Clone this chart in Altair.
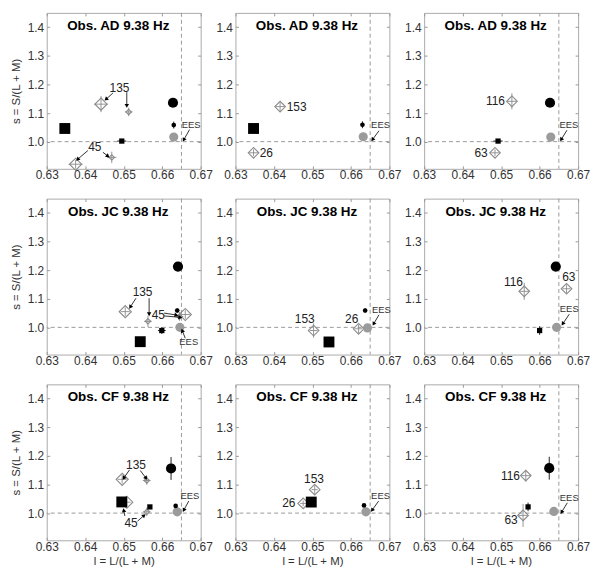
import math
import altair as alt
import pandas as pd

FONT = "Liberation Sans"
OBSERVERS = ["AD", "JC", "CF"]
FREQ = "9.38 Hz"
X_DOMAIN = [0.63, 0.67]
Y_DOMAIN = [0.905, 1.45]
X_TICKS = [0.63, 0.64, 0.65, 0.66, 0.67]
Y_TICKS = [1.0, 1.1, 1.2, 1.3, 1.4]
EES_X = 0.665
EES_Y = 1.0
W, H = 155, 157

# large black squares
bsq_panel = [0, 1, 3, 4, 6, 7]
bsq_x = [0.6347, 0.6347, 0.6543, 0.6543, 0.6495, 0.6497]
bsq_y = [1.046, 1.046, 0.950, 0.949, 1.039, 1.0386]

# small black squares (with error bars)
ssq_panel = [0, 2, 3, 5, 6, 8]
ssq_x = [0.6495, 0.6492, 0.6599, 0.6600, 0.6568, 0.6570]
ssq_y = [1.002, 1.002, 0.989, 0.989, 1.0216, 1.0217]
ssq_ex = [0.0012, 0.0012, 0.0010, 0.0005, 0.0, 0.0]
ssq_ey = [0.0, 0.0, 0.012, 0.015, 0.0, 0.015]

# large black circles
bci_panel = [0, 2, 3, 5, 6, 8]
bci_x = [0.6628, 0.6627, 0.6641, 0.6642, 0.6623, 0.6625]
bci_y = [1.136, 1.136, 1.2126, 1.2126, 1.156, 1.157]
bci_ey = [0.0, 0.0, 0.0, 0.0, 0.04, 0.04]

# small black circles
sci_panel = [0, 1, 3, 4, 6, 7]
sci_x = [0.6630, 0.6630, 0.6639, 0.6637, 0.6635, 0.6634]
sci_y = [1.058, 1.059, 1.059, 1.059, 1.025, 1.027]
sci_ey = [0.012, 0.012, 0.008, 0.008, 0.005, 0.005]

# grey circles
gci_panel = [0, 1, 2, 3, 4, 5, 6, 7, 8]
gci_x = [0.6630, 0.6632, 0.6629, 0.6646, 0.6643, 0.6644, 0.6639, 0.6639, 0.6637]
gci_y = [1.016, 1.017, 1.016, 1.000, 0.998, 1.000, 1.0045, 1.0045, 1.006]

# open diamonds with cross-hair error bars
dia_panel = [0, 0, 0, 0, 1, 1, 2, 2, 3, 3, 3, 3, 4, 4, 5, 5, 6, 6, 6, 6, 7, 7, 8, 8]
dia_x = [0.6441, 0.6513, 0.6375, 0.6469, 0.6416, 0.6347, 0.6528, 0.6484,
         0.6504, 0.6563, 0.6645, 0.6660, 0.6503, 0.6620, 0.6560, 0.6670,
         0.6508, 0.6496, 0.6560, 0.6560, 0.6506, 0.6476, 0.6564, 0.6557]
dia_y = [1.131, 1.104, 0.921, 0.945, 1.1225, 0.961, 1.141, 0.961,
         1.055, 1.021, 1.038, 1.045, 0.989, 0.995, 1.126, 1.135,
         1.038, 1.118, 1.114, 1.0045, 1.082, 1.034, 1.131, 0.992]
dia_cls = ["L", "S", "L", "S", "M", "M", "M", "M",
           "L", "S", "S", "L", "M", "M", "M", "M",
           "L", "L", "S", "S", "M", "M", "M", "M"]
dia_ex = [0.0018, 0.0010, 0.0018, 0.0012, 0.0012, 0.0012, 0.0012, 0.0012,
          0.0012, 0.0010, 0.0010, 0.0012, 0.0010, 0.0010, 0.0012, 0.0010,
          0.0010, 0.0012, 0.0010, 0.0010, 0.0008, 0.0008, 0.0012, 0.0012]
dia_ey = [0.028, 0.015, 0.015, 0.020, 0.015, 0.012, 0.028, 0.012,
          0.015, 0.020, 0.015, 0.015, 0.025, 0.015, 0.030, 0.015,
          0.015, 0.015, 0.015, 0.015, 0.015, 0.010, 0.020, 0.040]
DIA_SIZE = {"L": 150, "M": 115, "S": 30}

# number labels
lab_panel = [0, 0, 1, 1, 2, 2, 3, 3, 4, 4, 5, 5, 6, 6, 7, 7, 8, 8]
lab_text = ["135", "45", "153", "26", "116", "63", "135", "45", "153", "26",
            "116", "63", "135", "45", "153", "26", "116", "63"]
lab_x = [0.6489, 0.6425, 0.6433, 0.6363, 0.6510, 0.6465, 0.6549, 0.6590, 0.6480, 0.6602,
         0.6532, 0.6676, 0.6532, 0.6519, 0.6504, 0.6456, 0.6549, 0.6543]
lab_y = [1.188, 0.980, 1.1225, 0.961, 1.141, 0.961, 1.124, 1.044, 1.029, 1.029,
         1.160, 1.176, 1.169, 0.964, 1.120, 1.034, 1.131, 0.977]
lab_align = ["center", "center", "left", "left", "right", "right", "center", "center",
             "center", "center", "center", "center", "center", "center", "center", "right",
             "right", "right"]

# EES labels
ees_panel = [0, 1, 2, 3, 4, 5, 6, 7, 8]
ees_x = [0.6675, 0.6677, 0.6676, 0.6669, 0.6679, 0.6677, 0.6672, 0.6677, 0.6677]
ees_y = [1.058, 1.058, 1.058, 0.948, 1.062, 1.064, 1.059, 1.059, 1.053]

# arrows (from -> to)
arr_panel = [0, 0, 0, 0, 0, 1, 2, 3, 3, 3, 3, 3, 4, 5, 6, 6, 6, 6, 6, 7, 8]
arr_x1 = [0.6472, 0.6508, 0.6407, 0.6446, 0.6671, 0.6673, 0.6671, 0.6532, 0.6566, 0.6605, 0.6605,
          0.6660, 0.6673, 0.6677, 0.6515, 0.6543, 0.6503, 0.6536, 0.6669, 0.6672, 0.6672]
arr_y1 = [1.170, 1.173, 0.969, 0.963, 1.042, 1.038, 1.040, 1.102, 1.102, 1.050, 1.040,
          0.962, 1.044, 1.046, 1.151, 1.149, 0.990, 0.972, 1.042, 1.042, 1.036]
arr_x2 = [0.6454, 0.6508, 0.6380, 0.6459, 0.6656, 0.6656, 0.6656, 0.6517, 0.6566, 0.6637, 0.6647,
          0.6652, 0.6659, 0.6660, 0.6500, 0.6558, 0.6500, 0.6553, 0.6656, 0.6655, 0.6657]
arr_y2 = [1.148, 1.125, 0.938, 0.949, 1.006, 1.007, 1.007, 1.071, 1.046, 1.043, 1.035,
          0.989, 1.012, 1.012, 1.122, 1.122, 1.010, 0.992, 1.010, 1.010, 1.003]


def frame(panel, cols):
    d = pd.DataFrame(cols)
    d["panel"] = panel
    return d


bsq = frame(bsq_panel, {"x": bsq_x, "y": bsq_y})
ssq = frame(ssq_panel, {"x": ssq_x, "y": ssq_y, "ex": ssq_ex, "ey": ssq_ey})
bci = frame(bci_panel, {"x": bci_x, "y": bci_y, "ey": bci_ey})
sci = frame(sci_panel, {"x": sci_x, "y": sci_y, "ey": sci_ey})
gci = frame(gci_panel, {"x": gci_x, "y": gci_y})
dia = frame(dia_panel, {"x": dia_x, "y": dia_y, "cls": dia_cls, "ex": dia_ex, "ey": dia_ey})
dia["size"] = dia["cls"].map(DIA_SIZE)
lab = frame(lab_panel, {"x": lab_x, "y": lab_y, "text": lab_text, "align": lab_align})
ees = frame(ees_panel, {"x": ees_x, "y": ees_y})
ees["text"] = "EES"
arr = frame(arr_panel, {"x": arr_x1, "y": arr_y1, "x2": arr_x2, "y2": arr_y2})
px_x = W / (X_DOMAIN[1] - X_DOMAIN[0])
px_y = H / (Y_DOMAIN[1] - Y_DOMAIN[0])
arr["angle"] = [
    math.degrees(math.atan2((b - a) * px_x, (d - c) * px_y)) % 360
    for a, b, c, d in zip(arr["x"], arr["x2"], arr["y"], arr["y2"])
]

xscale = alt.Scale(domain=X_DOMAIN, nice=False, zero=False)
yscale = alt.Scale(domain=Y_DOMAIN, nice=False, zero=False)


def X(f):
    return alt.X(f, scale=xscale, axis=None)


def Y(f):
    return alt.Y(f, scale=yscale, axis=None)


def errbars(d, color, width=1.0):
    layers = []
    if "ex" in d:
        dx = d[d["ex"] > 0].copy()
        if len(dx):
            dx["xa"] = dx["x"] - dx["ex"]
            dx["xb"] = dx["x"] + dx["ex"]
            layers.append(alt.Chart(dx).mark_rule(color=color, strokeWidth=width).encode(
                x=X("xa:Q"), x2="xb:Q", y=Y("y:Q")))
    if "ey" in d:
        dy = d[d["ey"] > 0].copy()
        if len(dy):
            dy["ya"] = dy["y"] - dy["ey"]
            dy["yb"] = dy["y"] + dy["ey"]
            layers.append(alt.Chart(dy).mark_rule(color=color, strokeWidth=width).encode(
                x=X("x:Q"), y=Y("ya:Q"), y2="yb:Q"))
    return layers


def panel_chart(p):
    row, col = divmod(p, 3)
    common = dict(tickCount=20, grid=False, domain=False, labelOverlap=False,
                  labelFlush=False, offset=-3, tickSize=3)
    xaxis_kw = dict(values=X_TICKS, format=".2f", titlePadding=3, labelPadding=1, **common)
    yaxis_kw = dict(values=Y_TICKS, format=".1f", labelPadding=3, **common)
    xaxis = alt.Axis(title="l = L/(L + M)", **xaxis_kw) if row == 2 else alt.Axis(title=None, **xaxis_kw)
    yaxis = alt.Axis(title="s = S/(L + M)", **yaxis_kw) if col == 0 else alt.Axis(title=None, **yaxis_kw)
    xtop = alt.Axis(orient="top", values=X_TICKS, labels=False, title=None, **common)
    yright = alt.Axis(orient="right", values=Y_TICKS, labels=False, title=None, **common)

    sel = lambda d: d[d["panel"] == p]

    layers = []
    # reference lines through the equal-energy white, carrying the axes
    layers.append(alt.Chart(pd.DataFrame({"y": [EES_Y]})).mark_rule(
        color="#9a9a9a", strokeDash=[4, 3], strokeWidth=1).encode(
        y=alt.Y("y:Q", scale=yscale, axis=yaxis)))
    layers.append(alt.Chart(pd.DataFrame({"x": [EES_X]})).mark_rule(
        color="#9a9a9a", strokeDash=[4, 3], strokeWidth=1).encode(
        x=alt.X("x:Q", scale=xscale, axis=xaxis)))
    layers.append(alt.Chart(pd.DataFrame({"x": [EES_X], "y": [EES_Y]})).mark_point(
        opacity=0, size=1).encode(
        x=alt.X("x:Q", scale=xscale, axis=xtop), y=alt.Y("y:Q", scale=yscale, axis=yright)))

    d_dia = sel(dia)
    if len(d_dia):
        layers += errbars(d_dia, "#8a8a8a", 0.9)
        layers.append(alt.Chart(d_dia).mark_point(
            shape="diamond", filled=False, color="#8a8a8a", strokeWidth=1.1, opacity=1).encode(
            x=X("x:Q"), y=Y("y:Q"), size=alt.Size("size:Q", scale=None)))

    d_gci = sel(gci)
    layers.append(alt.Chart(d_gci).mark_circle(size=85, color="#9b9b9b", opacity=1).encode(
        x=X("x:Q"), y=Y("y:Q")))

    d_sci = sel(sci)
    if len(d_sci):
        layers += errbars(d_sci, "#222")
        layers.append(alt.Chart(d_sci).mark_circle(size=22, color="black", opacity=1).encode(
            x=X("x:Q"), y=Y("y:Q")))

    d_bci = sel(bci)
    if len(d_bci):
        layers += errbars(d_bci, "#222")
        layers.append(alt.Chart(d_bci).mark_circle(size=105, color="black", opacity=1).encode(
            x=X("x:Q"), y=Y("y:Q")))

    d_ssq = sel(ssq)
    if len(d_ssq):
        layers += errbars(d_ssq, "#222")
        layers.append(alt.Chart(d_ssq).mark_square(size=28, color="black", opacity=1).encode(
            x=X("x:Q"), y=Y("y:Q")))

    d_bsq = sel(bsq)
    if len(d_bsq):
        layers.append(alt.Chart(d_bsq).mark_square(size=120, color="black", opacity=1).encode(
            x=X("x:Q"), y=Y("y:Q")))

    d_arr = sel(arr)
    layers.append(alt.Chart(d_arr).mark_rule(color="black", strokeWidth=0.8).encode(
        x=X("x:Q"), y=Y("y:Q"), x2="x2:Q", y2="y2:Q"))
    layers.append(alt.Chart(d_arr).mark_point(
        shape="triangle-up", filled=True, size=20, color="black", opacity=1).encode(
        x=X("x2:Q"), y=Y("y2:Q"), angle=alt.Angle("angle:Q", scale=None)))

    d_lab = sel(lab)
    for al in ["left", "center", "right"]:
        dd = d_lab[d_lab["align"] == al]
        if len(dd):
            layers.append(alt.Chart(dd).mark_text(
                align=al, baseline="middle", font=FONT, fontSize=12, color="#222").encode(
                x=X("x:Q"), y=Y("y:Q"), text="text:N"))

    layers.append(alt.Chart(sel(ees)).mark_text(
        align="center", baseline="middle", font=FONT, fontSize=9.5, color="#333").encode(
        x=X("x:Q"), y=Y("y:Q"), text="text:N"))

    title_df = pd.DataFrame({"t": [f"Obs. {OBSERVERS[row]} {FREQ}"]})
    layers.append(alt.Chart(title_df).mark_text(
        align="center", baseline="alphabetic", font=FONT, fontSize=13.5, fontWeight="bold",
        color="black").encode(x=alt.value(72), y=alt.value(17), text="t:N"))

    return alt.layer(*layers).resolve_axis(x="independent", y="independent").properties(
        width=W, height=H)


chart = alt.concat(
    *[panel_chart(p) for p in range(9)], columns=3, bounds="flush",
    spacing={"row": 30, "column": 35}
).properties(
    padding={"top": 2, "left": 1, "right": 2, "bottom": 2}
).configure_view(
    stroke="#aaaaaa", strokeWidth=1
).configure_axis(
    labelFont=FONT, labelFontSize=12, labelColor="#333", tickColor="#999",
    titleFont=FONT, titleFontSize=11.5, titleFontWeight="normal",
    titleColor="#333", titlePadding=6
)

chart.save("out.html", embed_options={"renderer": "svg", "actions": False})
